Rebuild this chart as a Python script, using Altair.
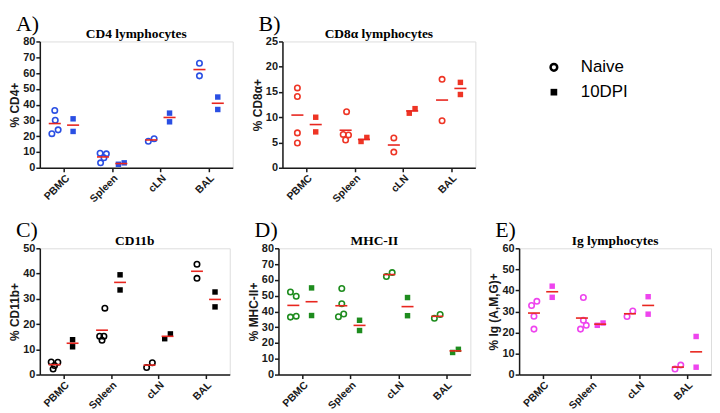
import json
import altair as alt
import pandas as pd

categories = ["PBMC", "Spleen", "cLN", "BAL"]
groups = ["Naive", "10DPI"]

# A) CD4 lymphocytes
a_naive = [[36.3, 30.1, 24.0, 21.6], [9.2, 8.8, 6.3, 3.1], [16.8, 18.4], [66.2, 58.2]]
a_naive_jit = [[0.0, 0.01, 0.07, -0.06], [-0.06, 0.07, 0.02, -0.05], [-0.06, 0.06], [0.0, 0.0]]
a_dpi = [[31.0, 23.0], [2.2, 3.1], [34.6, 29.1], [44.8, 36.9]]
a_dpi_jit = [[0.0, 0.0], [-0.06, 0.06], [0.0, 0.0], [0.0, 0.0]]

# B) CD8a lymphocytes
b_naive = [[15.8, 14.1, 6.9, 4.9], [11.1, 6.6, 6.5, 5.5], [5.9, 3.1], [17.5, 9.3]]
b_naive_jit = [[0.0, 0.0, 0.0, 0.0], [0.02, -0.05, 0.06, 0.0], [0.0, 0.0], [0.0, 0.0]]
b_dpi = [[10.0, 7.1], [5.2, 6.0], [10.8, 11.7], [16.9, 14.5]]
b_dpi_jit = [[0.0, 0.0], [-0.06, 0.06], [-0.06, 0.06], [0.0, 0.0]]

# C) CD11b
c_naive = [[5.0, 4.9, 3.6, 2.2], [26.3, 15.2, 15.2, 13.6], [2.8, 4.7], [43.7, 38.1]]
c_naive_jit = [[-0.07, 0.07, 0.0, -0.03], [0.06, -0.05, 0.04, 0.0], [-0.06, 0.06], [0.0, 0.0]]
c_dpi = [[13.8, 11.0], [39.5, 33.5], [14.2, 16.1], [32.7, 26.8]]
c_dpi_jit = [[0.0, 0.0], [0.0, 0.0], [-0.06, 0.06], [0.0, 0.0]]

# D) MHC-II
d_naive = [[52.3, 49.6, 36.4, 37.0], [54.5, 44.9, 36.6, 38.4], [62.1, 64.6], [35.7, 38.1]]
d_naive_jit = [[-0.06, 0.06, -0.06, 0.06], [0.01, 0.01, -0.06, 0.05], [-0.06, 0.06], [-0.06, 0.06]]
d_dpi = [[54.9, 37.4], [34.4, 27.9], [48.8, 37.3], [14.0, 16.0]]
d_dpi_jit = [[0.0, 0.0], [0.0, 0.0], [0.0, 0.0], [-0.06, 0.06]]

# E) Ig lymphocytes
e_naive = [[32.8, 34.8, 27.7, 21.6], [36.6, 25.8, 23.4, 21.6], [27.6, 30.2], [2.6, 4.5]]
e_naive_jit = [[-0.05, 0.06, 0.0, 0.0], [0.03, 0.03, 0.09, -0.03], [-0.06, 0.06], [-0.06, 0.06]]
e_dpi = [[42.0, 36.7], [23.4, 24.5], [37.0, 28.7], [18.1, 3.5]]
e_dpi_jit = [[0.0, 0.0], [-0.06, 0.06], [0.0, 0.0], [0.0, 0.0]]

MEAN_RED = "#e8261f"
OFF = 0.19
HALF = 0.125
SANS = "Liberation Sans"
SERIF = "Liberation Serif"
AXC = "#1a1a1a"


def build(naive, naive_j, dpi, dpi_j):
    rows = []
    for ci, cat in enumerate(categories):
        for v, j in zip(naive[ci], naive_j[ci]):
            rows.append(dict(cat=cat, ci=ci, group=groups[0], value=v, jit=j))
        for v, j in zip(dpi[ci], dpi_j[ci]):
            rows.append(dict(cat=cat, ci=ci, group=groups[1], value=v, jit=j))
    return pd.DataFrame(rows)


label_expr = json.dumps(categories) + "[datum.value]"


def x_axis():
    return alt.Axis(values=list(range(len(categories))), labelExpr=label_expr,
                    labelAngle=-45, labelAlign="right", labelBaseline="top",
                    ticks=True, tickSize=4, tickWidth=1.5, tickColor=AXC,
                    grid=False, title=None, domainColor=AXC,
                    domainWidth=1.5, labelFont=SANS, labelFontWeight="bold",
                    labelFontSize=10.5, labelColor=AXC, labelPadding=1,
                    labelOverlap=False)


def y_axis(title, ymax, ystep):
    return alt.Axis(values=list(range(0, ymax + 1, ystep)), title=title,
                    titleFont=SANS, titleFontWeight="bold", titleFontSize=12,
                    titleColor=AXC, titlePadding=1, labelFont=SANS,
                    labelFontWeight="bold", labelFontSize=11, labelColor=AXC,
                    labelPadding=1, tickSize=4, tickWidth=1.5, tickColor=AXC,
                    domainColor=AXC, domainWidth=1.5, grid=False)


def panel(letter, title, ytitle, ymax, ystep, color, naive, naive_j, dpi, dpi_j, width, height):
    df = build(naive, naive_j, dpi, dpi_j)
    xs = alt.Scale(domain=[-0.5, len(categories) - 0.5], nice=False, zero=False)
    ys = alt.Scale(domain=[0, ymax], nice=False, zero=True)
    base = alt.Chart(df).transform_calculate(
        pos=f"datum.ci + (datum.group == '{groups[0]}' ? -{OFF} : {OFF}) + datum.jit")
    x = alt.X("pos:Q", scale=xs, axis=x_axis())
    y = alt.Y("value:Q", scale=ys, axis=y_axis(ytitle, ymax, ystep))
    circles = base.transform_filter(f"datum.group == '{groups[0]}'").mark_point(
        shape="circle", filled=False, size=30, strokeWidth=1.6, color=color, opacity=1
    ).encode(x=x, y=y)
    squares = base.transform_filter(f"datum.group == '{groups[1]}'").mark_square(
        size=30, color=color, opacity=1
    ).encode(x=x, y=y)
    means = alt.Chart(df).transform_aggregate(
        mean="mean(value)", groupby=["ci", "group"]
    ).transform_calculate(
        c=f"datum.ci + (datum.group == '{groups[0]}' ? -{OFF} : {OFF})"
    ).transform_calculate(
        x1=f"datum.c - {HALF}", x2=f"datum.c + {HALF}"
    ).mark_rule(color=MEAN_RED, strokeWidth=1.6).encode(
        x=alt.X("x1:Q", scale=xs, axis=x_axis()),
        x2="x2:Q",
        y=alt.Y("mean:Q", scale=ys, axis=y_axis(ytitle, ymax, ystep)),
    )
    txt = alt.Chart(pd.DataFrame({"letter": [letter], "title": [title]}))
    lab = txt.mark_text(
        align="left", baseline="alphabetic", font=SERIF, fontSize=22, color="black"
    ).encode(text="letter:N", x=alt.value(-24), y=alt.value(-11))
    ttl = txt.mark_text(
        align="center", baseline="alphabetic", font=SERIF, fontSize=13.5,
        fontWeight="bold", color="black"
    ).encode(text="title:N", x=alt.value(width / 2), y=alt.value(-3))
    return alt.layer(circles, squares, means, lab, ttl).properties(
        width=width, height=height)


H = 127
pa = panel("A)", "CD4 lymphocytes", "% CD4+", 80, 10, "#2a4fe3",
           a_naive, a_naive_jit, a_dpi, a_dpi_jit, 194, H)
pb = panel("B)", "CD8α lymphocytes", "% CD8α+", 25, 5, "#ee3525",
           b_naive, b_naive_jit, b_dpi, b_dpi_jit, 194, H)
pc = panel("C)", "CD11b", "% CD11b+", 50, 10, "#000000",
           c_naive, c_naive_jit, c_dpi, c_dpi_jit, 191, H)
pd_ = panel("D)", "MHC-II", "% MHC-II+", 80, 10, "#1e8c1e",
            d_naive, d_naive_jit, d_dpi, d_dpi_jit, 193, H)
pe = panel("E)", "Ig lymphocytes", "% Ig (A,M,G)+", 60, 10, "#ee44ee",
           e_naive, e_naive_jit, e_dpi, e_dpi_jit, 193, H)

leg_df = pd.DataFrame({"group": groups})
ly = alt.Y("group:N", scale=alt.Scale(domain=groups, range=[26, 51], padding=0), axis=None)
leg_base = alt.Chart(leg_df)
leg_c = leg_base.transform_filter(f"datum.group == '{groups[0]}'").mark_point(
    shape="circle", filled=False, size=45, strokeWidth=2.5, color="black", opacity=1
).encode(y=ly, x=alt.value(61))
leg_s = leg_base.transform_filter(f"datum.group == '{groups[1]}'").mark_square(
    size=45, color="black", opacity=1
).encode(y=ly, x=alt.value(61))
leg_t = leg_base.mark_text(
    align="left", baseline="middle", font=SANS, fontSize=17, color="black"
).encode(y=ly, x=alt.value(88), text="group:N")
legend = alt.layer(leg_c, leg_s, leg_t).properties(
    width=130, height=80, view=alt.ViewBackground(stroke=None))

top = alt.hconcat(pa, pb, legend, spacing=17)
bottom = alt.hconcat(pc, pd_, pe, spacing=16)
chart = alt.vconcat(top, bottom, spacing=13).properties(
    padding={"left": 0, "top": 2.5, "right": 0, "bottom": 0}
).configure_view(stroke=None).configure(background="white")

chart.save("out.html", embed_options={"renderer": "svg", "actions": False})
